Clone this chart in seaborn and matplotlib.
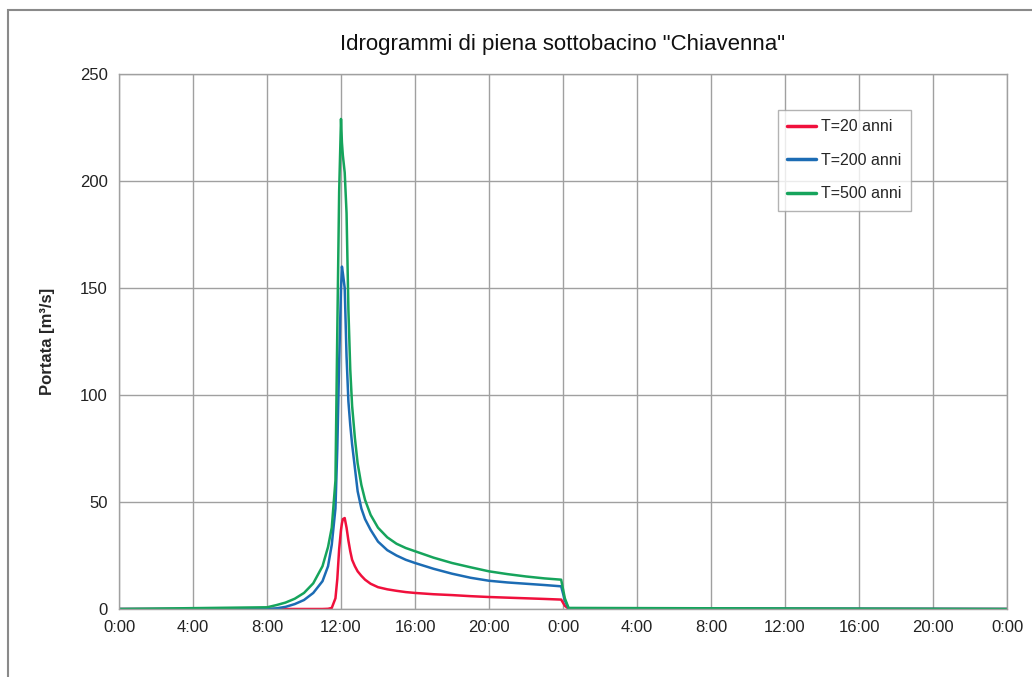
import pandas as pd
import matplotlib.pyplot as plt
import matplotlib.patches as patches
from matplotlib.ticker import FixedLocator, FuncFormatter
import seaborn as sns

# hours from start of event
hours = [0, 8, 8.5, 9, 9.5, 10, 10.5, 11, 11.3, 11.5, 11.7, 11.8, 11.9, 12.0, 12.05,
         12.1, 12.2, 12.3, 12.4, 12.5, 12.6, 12.75, 12.9, 13.1, 13.3, 13.6, 14.0,
         14.5, 15, 15.5, 16, 17, 18, 19, 20, 21, 22, 23, 23.9, 24.1, 24.3, 48]

q_t20 = [0, 0, 0, 0, 0, 0, 0, 0, 0.1, 0.5, 5, 14, 28, 37, 40,
         42, 42.5, 38, 32, 27, 23, 20, 17.6, 15.5, 13.7, 11.8, 10.2,
         9.2, 8.5, 7.9, 7.5, 6.9, 6.5, 6.0, 5.6, 5.3, 5.0, 4.7, 4.4, 1.5, 0.1, 0]
q_t200 = [0, 0, 0.3, 1.0, 2.3, 4.2, 7.5, 13, 20, 30, 47, 75, 115, 150, 160,
          157, 150, 118, 97, 86, 77, 66, 55, 47, 42, 37, 31.5,
          27.5, 25, 23, 21.5, 18.8, 16.5, 14.6, 13.2, 12.4, 11.8, 11.2, 10.6, 4, 0.3, 0]
q_t500 = [0, 0.8, 1.8, 3.0, 4.8, 7.5, 12, 20, 29, 38, 60, 130, 195, 229, 218,
          212, 204, 185, 140, 112, 95, 80, 68, 58, 51, 44, 38,
          33.5, 30.5, 28.5, 27, 24, 21.5, 19.5, 17.6, 16.3, 15.2, 14.3, 13.7, 5, 0.5, 0]

series = ["T=20 anni", "T=200 anni", "T=500 anni"]
colors = ["#f0103c", "#1c6cb4", "#16a45c"]
x_ticks = list(range(0, 49, 4))

df = pd.concat([
    pd.DataFrame({"ore": hours, "Q": q, "serie": name})
    for name, q in zip(series, [q_t20, q_t200, q_t500])
])

sns.set_theme(style="whitegrid")
plt.rcParams['font.family'] = ['Liberation Sans', 'DejaVu Sans']

fig = plt.figure(figsize=(10.32, 6.77), dpi=100)
ax = fig.add_axes([119 / 1032, 1 - 609 / 677, 888 / 1032, 535 / 677])

sns.lineplot(data=df, x="ore", y="Q", hue="serie", palette=colors, ax=ax,
             linewidth=1.8, sort=False)

ax.set_xlim(0, 48)
ax.set_ylim(0, 250)
ax.xaxis.set_major_locator(FixedLocator(x_ticks))
ax.xaxis.set_major_formatter(FuncFormatter(lambda v, p: f"{int(v) % 24}:00"))
ax.set_yticks([0, 50, 100, 150, 200, 250])
ax.tick_params(axis="both", labelsize=12, colors="#222222", pad=8, length=0)
ax.grid(True, color="#a0a0a0", linewidth=1)
for s in ax.spines.values():
    s.set_color("#a0a0a0")
    s.set_linewidth(1)

ax.set_xlabel("")
ax.set_ylabel("Portata [m\u00b3/s]", fontsize=12, fontweight="bold", labelpad=18)
ax.set_title('Idrogrammi di piena sottobacino "Chiavenna"', fontsize=16, pad=17,
             color="#111111")

leg = ax.legend(loc="upper left", bbox_to_anchor=(0.733, 0.948), fontsize=11.5,
                frameon=True, fancybox=False, handlelength=1.8, handletextpad=0.3,
                labelspacing=1.15, borderpad=0.6, title=None)
leg.get_frame().set_edgecolor("#a0a0a0")
leg.get_frame().set_linewidth(1)
for line in leg.get_lines():
    line.set_linewidth(2.5)

# outer chart frame
fig.patches.append(patches.Rectangle((8 / 1032, -0.05), 1.1, 1 - 10 / 677 + 0.05,
                                     transform=fig.transFigure, fill=False,
                                     edgecolor="#8a8a8a", linewidth=1.5))

plt.savefig("out.png", dpi=100)
